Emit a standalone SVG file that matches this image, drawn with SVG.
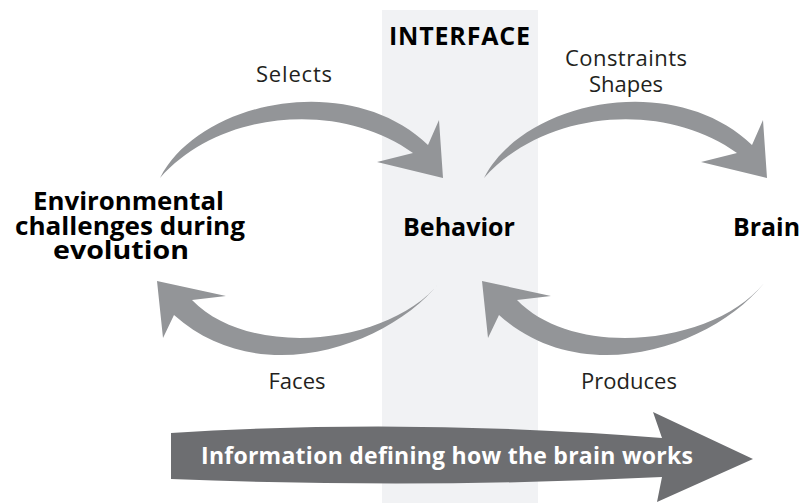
<svg xmlns="http://www.w3.org/2000/svg" width="807" height="503" viewBox="0 0 807 503">
<style>
.lbl{font-family:"Open Sans","Liberation Sans",sans-serif;font-size:22px;fill:#231f20;text-anchor:middle}
.node{font-family:"Open Sans","Liberation Sans",sans-serif;font-size:25px;font-weight:700;fill:#000;text-anchor:middle}
.arc{fill:#939598}
</style>
<rect id="interface-panel" x="382" y="10" width="156" height="493" fill="#f1f2f4"/>
<g id="interface-title"><text class="node" x="459.5" y="45" font-size="26" textLength="141" lengthAdjust="spacing">INTERFACE</text></g>
<g id="connectors">
<path class="arc" d="M160,178 C200,100 350,70 428,145 L439,120 L443,178 L377,162 L413,153 C340,100 220,110 160,178 Z"/>
<path class="arc" transform="translate(324,0)" d="M160,178 C200,100 350,70 428,145 L439,120 L443,178 L377,162 L413,153 C340,100 220,110 160,178 Z"/>
<path class="arc" d="M440,282 C390,345 260,392 174,315 L163,338 L157,281 L226,296 L192,300 C250,360 390,345 440,282 Z"/>
<path class="arc" transform="translate(325,0)" d="M440,282 C390,345 260,392 174,315 L163,338 L157,281 L226,296 L192,300 C250,360 390,345 440,282 Z"/>
<text class="lbl" x="294" y="82" textLength="76" lengthAdjust="spacing">Selects</text>
<text class="lbl" x="626" y="66" textLength="122" lengthAdjust="spacing">Constraints</text>
<text class="lbl" x="626" y="92">Shapes</text>
<text class="lbl" x="297" y="389">Faces</text>
<text class="lbl" x="629" y="389">Produces</text>
</g>
<g id="node-environment">
<text class="node" x="128.5" y="210" textLength="191" lengthAdjust="spacingAndGlyphs">Environmental</text>
<text class="node" x="130" y="235" textLength="230" lengthAdjust="spacingAndGlyphs">challenges during</text>
<text class="node" x="121" y="259" textLength="136" lengthAdjust="spacingAndGlyphs">evolution</text>
</g>
<g id="node-behavior"><text class="node" x="459" y="236" textLength="112" lengthAdjust="spacingAndGlyphs">Behavior</text></g>
<g id="node-brain"><text class="node" x="766.5" y="236" textLength="67" lengthAdjust="spacingAndGlyphs">Brain</text></g>
<g id="info-arrow">
<path d="M171,433 Q410,418 662,438 L653,412 L753,459 L657,502 L662,477 Q420,489 171,479 Z" fill="#6d6e71"/>
<text x="447" y="464" font-family="'Open Sans','Liberation Sans',sans-serif" font-size="23" font-weight="700" fill="#fff" text-anchor="middle" textLength="492" lengthAdjust="spacing">Information defining how the brain works</text>
</g>
</svg>
